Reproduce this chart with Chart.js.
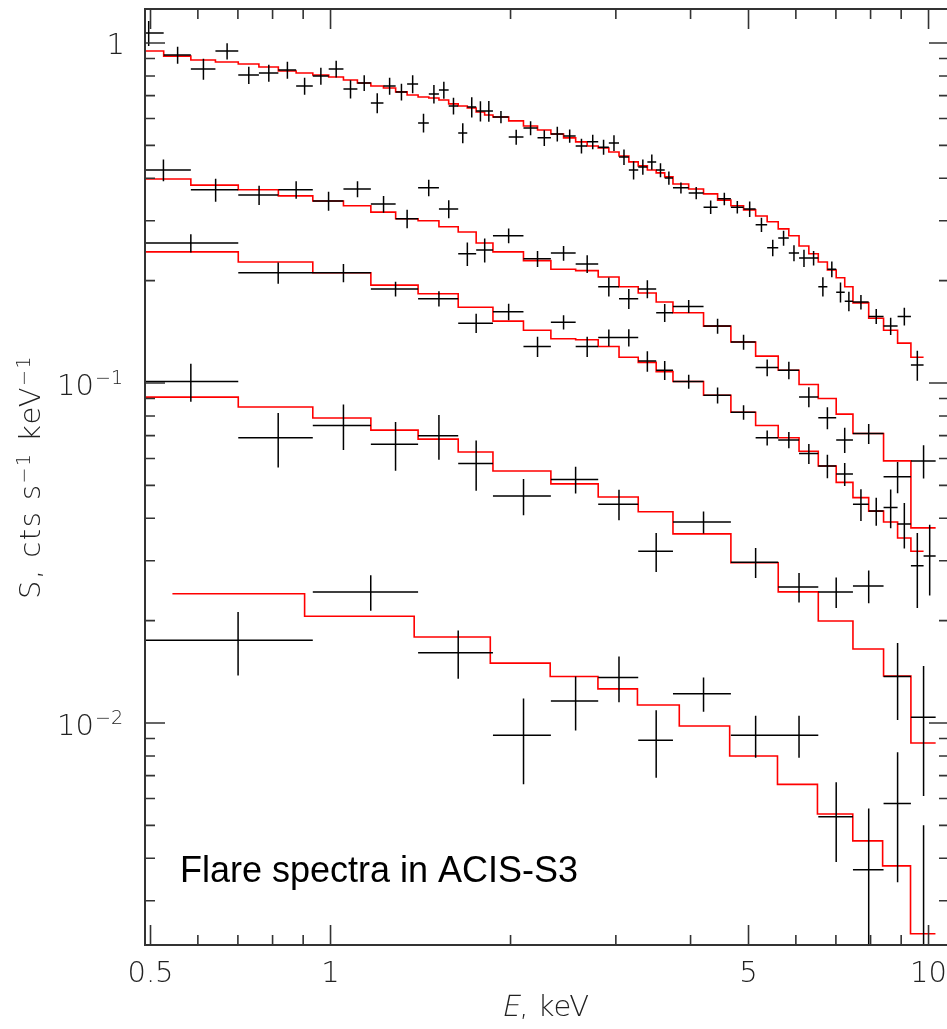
<!DOCTYPE html>
<html>
<head>
<meta charset="utf-8">
<script src="https://cdn.jsdelivr.net/npm/chart.js@4.4.1/dist/chart.umd.min.js"></script>
<style>
  html, body { margin: 0; padding: 0; background: #fff; overflow: hidden; }
  canvas { display: block; }
</style>
</head>
<body>
<canvas id="chart" width="952" height="1029"></canvas>
<script>
// axis ticks
const xTicks = [0.5, 0.6, 0.7, 0.8, 0.9, 1, 2, 3, 4, 5, 6, 7, 8, 9, 10];
const xMajor = [0.5, 1, 5, 10];
const xLabels = ["0.5", "1", "5", "10"];
const yTicks = [0.003, 0.004, 0.005, 0.006, 0.007, 0.008, 0.009, 0.01,
  0.02, 0.03, 0.04, 0.05, 0.06, 0.07, 0.08, 0.09, 0.1,
  0.2, 0.3, 0.4, 0.5, 0.6, 0.7, 0.8, 0.9, 1];
const yMajor = [0.01, 0.1, 1];
const yLabelExp = ["-2", "-1", ""];

// spectrum 1 (brightest flare), keV bin edges, cts/s/keV
const s1Edges = [0.467, 0.526, 0.584, 0.642, 0.701, 0.759, 0.818, 0.876, 0.934, 0.993,
  1.051, 1.109, 1.168, 1.226, 1.285, 1.343, 1.401, 1.460, 1.518, 1.576, 1.635, 1.693,
  1.752, 1.810, 1.869, 1.986, 2.102, 2.219, 2.336, 2.453, 2.570, 2.686, 2.803, 2.920,
  3.037, 3.154, 3.270, 3.387, 3.504, 3.621, 3.738, 3.971, 4.205, 4.439, 4.672, 4.906,
  5.139, 5.372, 5.606, 5.839, 6.074, 6.307, 6.541, 6.774, 7.008, 7.242, 7.475, 7.942,
  8.410, 8.877, 9.344, 9.811];
const s1Rate = [1.07, 0.922, 0.839, 0.947, 0.805, 0.816, 0.833, 0.747, 0.800, 0.839,
  0.732, 0.763, 0.666, 0.747, 0.718, 0.758, 0.582, 0.708, 0.727, 0.653, 0.544, 0.648,
  0.631, 0.631, 0.606, 0.529, 0.562, 0.526, 0.540, 0.533, 0.498, 0.512, 0.494, 0.508,
  0.462, 0.423, 0.432, 0.447, 0.423, 0.401, 0.375, 0.362, 0.329, 0.348, 0.329, 0.325,
  0.292, 0.250, 0.267, 0.241, 0.233, 0.233, 0.192, 0.216, 0.185, 0.174, 0.173, 0.157,
  0.147, 0.157, 0.113];
const s1Err = [0.09, 0.053, 0.060, 0.052, 0.047, 0.047, 0.048, 0.043, 0.046, 0.048,
  0.045, 0.041, 0.045, 0.043, 0.041, 0.046, 0.037, 0.044, 0.042, 0.037, 0.037, 0.044,
  0.043, 0.044, 0.025, 0.027, 0.027, 0.028, 0.027, 0.024, 0.025, 0.025, 0.025, 0.027,
  0.024, 0.026, 0.022, 0.023, 0.020, 0.018, 0.014, 0.015, 0.015, 0.015, 0.014, 0.017,
  0.014, 0.014, 0.0135, 0.013, 0.0135, 0.0115, 0.0125, 0.0115, 0.0125, 0.0115, 0.0085,
  0.008, 0.0085, 0.0095, 0.0115];
const s1Model = [0.947, 0.915, 0.891, 0.879, 0.867, 0.850, 0.827, 0.816, 0.805, 0.794,
  0.778, 0.763, 0.747, 0.737, 0.718, 0.703, 0.694, 0.689, 0.680, 0.662, 0.653, 0.644,
  0.627, 0.614, 0.606, 0.590, 0.570, 0.555, 0.540, 0.526, 0.512, 0.498, 0.491, 0.478,
  0.465, 0.447, 0.435, 0.423, 0.415, 0.404, 0.385, 0.372, 0.360, 0.345, 0.332, 0.323,
  0.310, 0.298, 0.284, 0.271, 0.253, 0.240, 0.227, 0.215, 0.204, 0.192, 0.172, 0.155,
  0.143, 0.131, 0.119];

// spectrum 2
const s2Edges = [0.467, 0.584, 0.701, 0.818, 0.934, 1.051, 1.168, 1.285, 1.401, 1.518,
  1.635, 1.752, 1.869, 2.102, 2.336, 2.570, 2.803, 3.037, 3.270, 3.504, 3.738, 4.205,
  4.672, 5.139, 5.606, 6.074, 6.541, 7.008, 7.475, 8.410, 9.344, 10.278];
const s2Rate = [0.423, 0.370, 0.357, 0.370, 0.343, 0.372, 0.336, 0.304, 0.375, 0.325,
  0.240, 0.246, 0.271, 0.232, 0.241, 0.224, 0.192, 0.177, 0.189, 0.161, 0.168, 0.147,
  0.132, 0.111, 0.109, 0.091, 0.079, 0.068, 0.071, 0.053, 0.059];
const s2Err = [0.031, 0.029, 0.023, 0.022, 0.022, 0.020, 0.019, 0.019, 0.021, 0.020,
  0.019, 0.020, 0.0135, 0.0125, 0.012, 0.0135, 0.0123, 0.012, 0.0115, 0.0098, 0.0074,
  0.0075, 0.0067, 0.0063, 0.0065, 0.0062, 0.0059, 0.0058, 0.0048, 0.0056, 0.0066];
const s2Model = [0.398, 0.382, 0.370, 0.355, 0.343, 0.332, 0.318, 0.304, 0.300, 0.288,
  0.278, 0.258, 0.243, 0.229, 0.216, 0.214, 0.205, 0.192, 0.184, 0.173, 0.161, 0.147,
  0.132, 0.120, 0.109, 0.099, 0.090, 0.081, 0.071, 0.059, 0.0375];

// spectrum 3
const s3Edges = [0.467, 0.701, 0.934, 1.168, 1.401, 1.635, 1.869, 2.102, 2.336, 2.570,
  2.803, 3.037, 3.270, 3.504, 3.738, 4.205, 4.672, 5.139, 5.606, 6.074, 6.541, 7.008,
  7.475, 7.942, 8.410, 8.877, 9.344, 9.811, 10.278];
const s3Rate = [0.258, 0.211, 0.211, 0.189, 0.177, 0.150, 0.162, 0.128, 0.151, 0.128,
  0.136, 0.136, 0.116, 0.109, 0.101, 0.092, 0.082, 0.069, 0.068, 0.062, 0.057, 0.054,
  0.044, 0.042, 0.043, 0.0385, 0.029, 0.031];
const s3Err = [0.016, 0.015, 0.013, 0.0095, 0.009, 0.0097, 0.009, 0.0087, 0.0073, 0.0088,
  0.0077, 0.008, 0.008, 0.007, 0.0048, 0.005, 0.004, 0.0035, 0.0037, 0.0042, 0.0045,
  0.0042, 0.0047, 0.004, 0.0056, 0.0059, 0.0072, 0.0073];
const s3Model = [0.243, 0.227, 0.211, 0.194, 0.183, 0.167, 0.152, 0.143, 0.135, 0.134,
  0.128, 0.119, 0.115, 0.108, 0.101, 0.092, 0.082, 0.075, 0.069, 0.063, 0.057, 0.051,
  0.046, 0.042, 0.039, 0.035, 0.032];

// spectrum 4
const s4Edges = [0.467, 0.701, 0.934, 1.168, 1.401, 1.635, 1.869, 2.336, 2.803, 3.270,
  3.738, 4.672, 5.606, 6.541, 7.475, 8.410, 9.344, 10.278];
const s4Rate = [0.101, 0.069, 0.075, 0.066, 0.070, 0.058, 0.0465, 0.052, 0.044, 0.032,
  0.039, 0.0297, 0.0251, 0.0243, 0.0253, 0.0137, 0.0104];
const s4Err = [0.013, 0.0126, 0.0115, 0.0108, 0.0105, 0.0098, 0.0057, 0.0047, 0.0045,
  0.0042, 0.0029, 0.003, 0.0025, 0.0025, 0.0028, 0.0035, 0.0043];
const s4Model = [0.0909, 0.085, 0.0789, 0.0727, 0.0684, 0.0627, 0.0551, 0.0505, 0.0462,
  0.0418, 0.036, 0.0296, 0.0243, 0.01995, 0.0165, 0.01375, 0.00873];

// spectrum 5 (faintest)
const s5Edges = [0.467, 0.934, 1.401, 1.869, 2.336, 2.803, 3.270, 3.738, 4.672, 5.606,
  6.541, 7.475, 8.410, 9.344, 10.278];
const s5Rate = [0.0175, 0.0243, 0.0161, 0.0092, 0.0116, 0.0136, 0.0089, 0.0122, 0.0092,
  0.0092, 0.0053, 0.0037, 0.0058, 0.0018];
const s5Err = [0.0037, 0.0029, 0.0026, 0.0026, 0.0021, 0.0021, 0.002, 0.0014, 0.0013,
  0.0013, 0.0014, 0.0019, 0.0024, 0.0032];
const s5ModelEdges = [0.544, 0.905, 1.38, 1.85, 2.33, 2.80, 3.26, 3.83, 4.65, 5.59,
  6.52, 7.47, 8.38, 9.33, 10.27];
const s5Model = [0.0240, 0.0206, 0.0179, 0.0150, 0.0137, 0.0126, 0.0113, 0.0098, 0.0080,
  0.0066, 0.0054, 0.0045, 0.0038, 0.0024];

const xMin = 0.4895, xMax = 10.82;
const yMin = 0.0022236, yMax = 1.2589;

// error-bar crosses as broken line segments
function crossPoints(edges, rate, err) {
  const pts = [];
  for (let i = 0; i < rate.length; i++) {
    const lo = edges[i], hi = edges[i + 1], mid = (lo + hi) / 2;
    const bottom = Math.max(rate[i] - err[i], 1e-4);
    pts.push({ x: lo, y: rate[i] }, { x: hi, y: rate[i] }, { x: mid, y: null });
    pts.push({ x: mid, y: bottom }, { x: mid, y: rate[i] + err[i] }, { x: mid, y: null });
  }
  return pts;
}

function stepPoints(edges, model) {
  const pts = model.map((m, i) => ({ x: edges[i], y: m }));
  pts.push({ x: edges[model.length], y: model[model.length - 1] });
  return pts;
}

const spectra = [
  [s1Edges, s1Rate, s1Err, s1Edges, s1Model],
  [s2Edges, s2Rate, s2Err, s2Edges, s2Model],
  [s3Edges, s3Rate, s3Err, s3Edges, s3Model],
  [s4Edges, s4Rate, s4Err, s4Edges, s4Model],
  [s5Edges, s5Rate, s5Err, s5ModelEdges, s5Model],
];

const datasets = [];
for (const [edges, rate, err, mEdges, model] of spectra) {
  datasets.push({
    data: stepPoints(mEdges, model),
    borderColor: "#ff0000", borderWidth: 1.6, stepped: true,
    pointRadius: 0, order: 2,
  });
  datasets.push({
    data: crossPoints(edges, rate, err),
    borderColor: "#000", borderWidth: 1.5, spanGaps: false,
    pointRadius: 0, order: 1,
  });
}

const FAMILY = "'DejaVu Sans', 'Liberation Sans', sans-serif";
const TICK_FONT = "200 29px " + FAMILY;
const SUP_FONT = "200 19px " + FAMILY;

const framePlugin = {
  id: "frame",
  afterDatasetsDraw(chart) {
    const { ctx, chartArea: a, scales: { x, y } } = chart;
    ctx.save();
    ctx.strokeStyle = "#333";
    ctx.lineWidth = 2;
    ctx.strokeRect(a.left, a.top, a.right - a.left, a.bottom - a.top);

    ctx.lineWidth = 1.6;
    ctx.beginPath();
    for (const v of xTicks) {
      const px = x.getPixelForValue(v);
      const len = xMajor.includes(v) ? 20 : 10;
      ctx.moveTo(px, a.bottom); ctx.lineTo(px, a.bottom - len);
      ctx.moveTo(px, a.top); ctx.lineTo(px, a.top + len);
    }
    for (const v of yTicks) {
      const py = y.getPixelForValue(v);
      const len = yMajor.includes(v) ? 20 : 10;
      ctx.moveTo(a.left, py); ctx.lineTo(a.left + len, py);
      ctx.moveTo(a.right, py); ctx.lineTo(a.right - len, py);
    }
    ctx.stroke();

    ctx.fillStyle = "#222";
    ctx.textBaseline = "alphabetic";
    // x tick labels
    ctx.font = TICK_FONT;
    ctx.textAlign = "center";
    xMajor.forEach((v, i) => ctx.fillText(xLabels[i], x.getPixelForValue(v), a.bottom + 37));

    // y tick labels (powers of ten)
    ctx.textAlign = "left";
    yMajor.forEach((v, i) => {
      const py = y.getPixelForValue(v);
      const right = 123;
      if (yLabelExp[i] === "") {
        ctx.font = TICK_FONT;
        const w = ctx.measureText("1").width;
        ctx.fillText("1", right - w + 2, py + 11);
        return;
      }
      const exp = yLabelExp[i].replace("-", "\u2212");
      ctx.font = SUP_FONT;
      const w2 = ctx.measureText(exp).width;
      ctx.font = TICK_FONT;
      const w1 = ctx.measureText("10").width;
      const x0 = right - w1 - w2 - 1;
      ctx.fillText("10", x0, py + 12);
      ctx.font = SUP_FONT;
      ctx.fillText(exp, x0 + w1 + 1, py + 1);
    });

    // y title, rotated, with superscripts
    const parts = [["S, cts s", TICK_FONT, 0], ["\u22121", SUP_FONT, -10],
      [" keV", TICK_FONT, 0], ["\u22121", SUP_FONT, -10]];
    ctx.save();
    ctx.letterSpacing = "1.5px";
    let total = 0;
    for (const p of parts) { ctx.font = p[1]; total += ctx.measureText(p[0]).width; }
    ctx.translate(40, (a.top + a.bottom) / 2);
    ctx.rotate(-Math.PI / 2);
    let cx = -total / 2;
    for (const p of parts) {
      ctx.font = p[1];
      ctx.fillText(p[0], cx, p[2]);
      cx += ctx.measureText(p[0]).width;
    }
    ctx.restore();

    // x title: slanted E, then ", keV"
    ctx.font = TICK_FONT;
    const we = ctx.measureText("E").width;
    const wr = ctx.measureText(", keV").width;
    const xc = (a.left + a.right) / 2 - 2;
    const x0 = xc - (we + wr) / 2;
    const base = a.bottom + 71;
    ctx.save();
    ctx.translate(x0, base);
    ctx.transform(1, 0, -0.21, 1, 0, 0);
    ctx.fillText("E", 0, 0);
    ctx.restore();
    ctx.fillText(", keV", x0 + we, base);

    // annotation
    ctx.fillStyle = "#000";
    ctx.font = "36px 'Liberation Sans', Arial, sans-serif";
    ctx.fillText("Flare spectra in ACIS-S3", 180, 882);
    ctx.restore();
  }
};

new Chart(document.getElementById("chart"), {
  type: "line",
  data: { datasets },
  options: {
    responsive: false,
    animation: false,
    layout: { padding: { left: 145, top: 9, right: 3, bottom: 84 } },
    plugins: { legend: { display: false }, tooltip: { enabled: false } },
    elements: { line: { tension: 0 } },
    scales: {
      x: { type: "logarithmic", min: xMin, max: xMax, display: false },
      y: { type: "logarithmic", min: yMin, max: yMax, display: false },
    },
  },
  plugins: [framePlugin],
});
</script>
</body>
</html>
